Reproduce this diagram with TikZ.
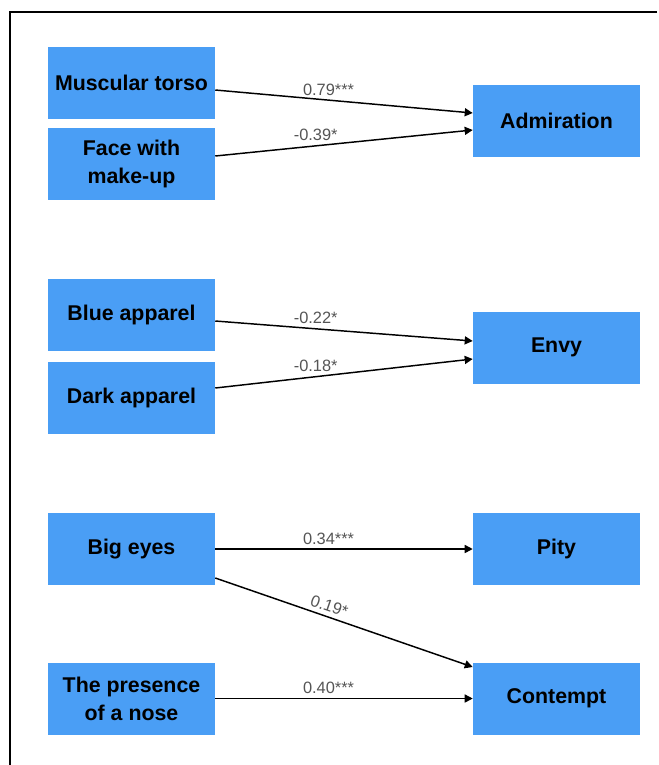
\documentclass[tikz,border=0pt]{standalone}
\usepackage{fontspec}
\setmainfont{Liberation Sans}
\usepackage{xcolor}
\usepackage{tikz}
\usetikzlibrary{arrows.meta, positioning, calc}
\definecolor{boxblue}{RGB}{74, 158, 245}
\definecolor{labelgray}{RGB}{85, 85, 85}

\begin{document}
\begin{tikzpicture}[
  x=0.75pt, y=-0.75pt,
  varbox/.style={fill=boxblue, minimum width=125.25pt, minimum height=54pt, align=center, inner sep=0pt, font=\bfseries\fontsize{16}{21}\selectfont},
  path/.style={-{Triangle[length=6pt, width=6pt]}, line width=1.1pt},
  coef/.style={above=1pt, inner sep=2pt, text=labelgray, font=\fontsize{12.3}{14}\selectfont}
]

% frame (top and left edges only)
\useasboundingbox (0,0) rectangle (658,765);
\clip (0,0) rectangle (658,765);
\draw[line width=1.5pt] (657,12) -- (10,12) -- (10,790);

% predictors
\node[varbox] (torso) at (131.5,83) {Muscular torso};
\node[varbox] (makeup) at (131.5,164) {Face with\\make-up};
\node[varbox] (blue) at (131.5,314.5) {Blue apparel};
\node[varbox] (dark) at (131.5,398) {Dark apparel};
\node[varbox] (eyes) at (131.5,549) {Big eyes};
\node[varbox] (nose) at (131.5,698.5) {The presence\\of a nose};

% emotions
\node[varbox] (admiration) at (556.5,121) {Admiration};
\node[varbox] (envy) at (556.5,347.5) {Envy};
\node[varbox] (pity) at (556.5,549) {Pity};
\node[varbox] (contempt) at (556.5,698.5) {Contempt};

% paths
\draw[path] ($(torso.east)+(0,7)$) -- node[coef, pos=0.44] {0.79***} ($(admiration.west)+(0,-8)$);
\draw[path] ($(makeup.east)+(0,-8)$) -- node[coef, pos=0.39] {-0.39*} ($(admiration.west)+(0,9)$);
\draw[path] ($(blue.east)+(0,6.5)$) -- node[coef, pos=0.39] {-0.22*} ($(envy.west)+(0,-6.5)$);
\draw[path] ($(dark.east)+(0,-10)$) -- node[coef, pos=0.39] {-0.18*} ($(envy.west)+(0,11.5)$);
\draw[path] (eyes.east) -- node[coef, pos=0.44] {0.34***} (pity.west);
\draw[path] ($(eyes.east)+(0,29)$) -- node[coef, pos=0.43, sloped] {0.19*} ($(contempt.west)+(0,-31.5)$);
\draw[path] (nose.east) -- node[coef, pos=0.44] {0.40***} (contempt.west);

\end{tikzpicture}
\end{document}
